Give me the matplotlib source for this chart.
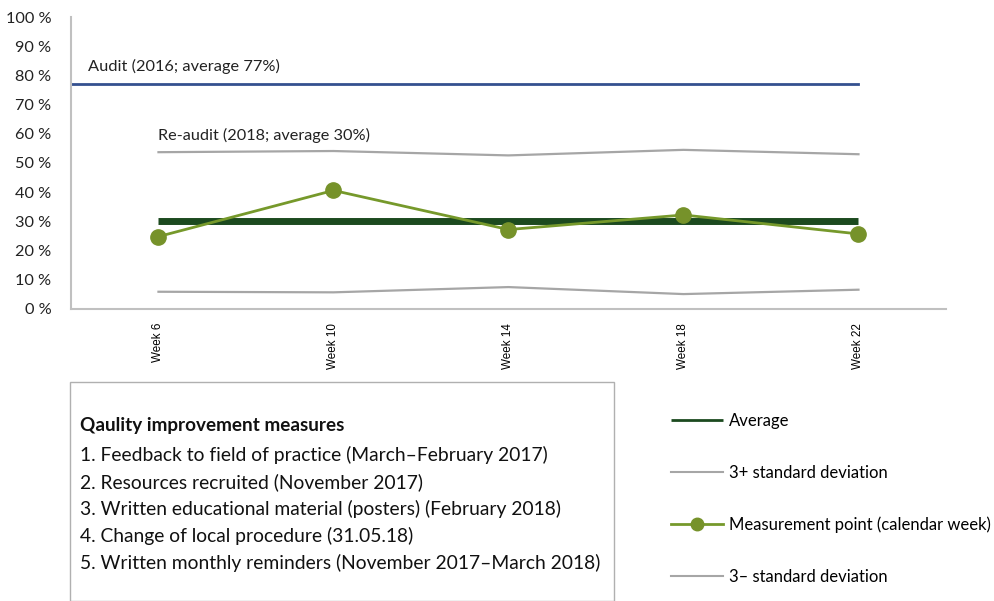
import matplotlib.pyplot as plt
from matplotlib.patches import Rectangle

# data
weeks = ["Week 6", "Week 10", "Week 14", "Week 18", "Week 22"]
measurement = [0.248, 0.406, 0.272, 0.322, 0.257]
upper_sd = [0.537, 0.541, 0.526, 0.545, 0.530]
lower_sd = [0.059, 0.057, 0.075, 0.051, 0.066]
average = [0.30, 0.30, 0.30, 0.30, 0.30]
audit_avg = 0.77

measures = [
    "1. Feedback to field of practice (March\u2013February 2017)",
    "2. Resources recruited (November 2017)",
    "3. Written educational material (posters) (February 2018)",
    "4. Change of local procedure (31.05.18)",
    "5. Written monthly reminders (November 2017\u2013March 2018)",
]

plt.rcParams['font.family'] = ['Lato', 'DejaVu Sans']

fig = plt.figure(figsize=(9.94, 6.01), dpi=100)
ax = fig.add_axes([0.0714, 0.4859, 0.8803, 0.4858])

x = list(range(len(weeks)))

# audit line runs from the axis to the last week
ax.plot([-0.5, x[-1]], [audit_avg, audit_avg], color="#34508f", lw=2)
ax.text(-0.4, audit_avg + 0.035, "Audit (2016; average 77%)", fontsize=11.8, va="bottom", color="#222222")
ax.text(0, 0.57, "Re-audit (2018; average 30%)", fontsize=11.7, va="bottom", color="#222222")

l_up, = ax.plot(x, upper_sd, color="#a6a6a6", lw=1.6)
l_lo, = ax.plot(x, lower_sd, color="#a6a6a6", lw=1.6)
l_avg, = ax.plot(x, average, color="#1c4a1f", lw=5, solid_capstyle="butt")
l_meas, = ax.plot(x, measurement, color="#76992b", lw=2, marker="o", markersize=11,
                  markerfacecolor="#76922a", markeredgecolor="#76922a")

ax.set_xlim(-0.5, 4.5)
ax.set_ylim(0, 1)
ax.set_xticks(x)
ax.set_xticklabels(weeks, rotation=90, fontsize=8.4, family="Liberation Sans", va="top")
ax.set_yticks([i / 10 for i in range(11)])
ax.set_yticklabels([f"{i * 10} %" for i in range(11)], fontsize=11.7, color="#222222")
ax.tick_params(length=0, pad=14)
ax.tick_params(axis="x", pad=10)
for s in ["top", "right"]:
    ax.spines[s].set_visible(False)
for s in ["left", "bottom"]:
    ax.spines[s].set_color("#c0c0c0")
    ax.spines[s].set_linewidth(1.5)

# box with the improvement measures
fig.patches.append(Rectangle((70 / 994, 0), 544 / 994, 219 / 601, transform=fig.transFigure,
                             fill=False, edgecolor="#b0b0b0", lw=1))
fig.text(80 / 994, 1 - 425 / 601, "Qaulity improvement measures", fontsize=13.6,
         fontweight="bold", va="center", color="#111111")
for i, m in enumerate(measures):
    fig.text(80 / 994, 1 - (455 + 27 * i) / 601, m, fontsize=13.9, va="center", color="#111111")

leg = fig.legend([l_avg, l_up, l_meas, l_lo],
                 ["Average", "3+ standard deviation", "Measurement point (calendar week)",
                  "3\u2013 standard deviation"],
                 loc="upper left", bbox_to_anchor=(656 / 994, 1 - 398 / 601),
                 frameon=False, fontsize=12, handlelength=3.1, handletextpad=0.4,
                 labelspacing=2.15)
for h in leg.legend_handles:
    h.set_linewidth(2 if h.get_linewidth() > 1.8 else 1.5)
    h.set_markersize(9)

fig.savefig("out.png", dpi=100)
